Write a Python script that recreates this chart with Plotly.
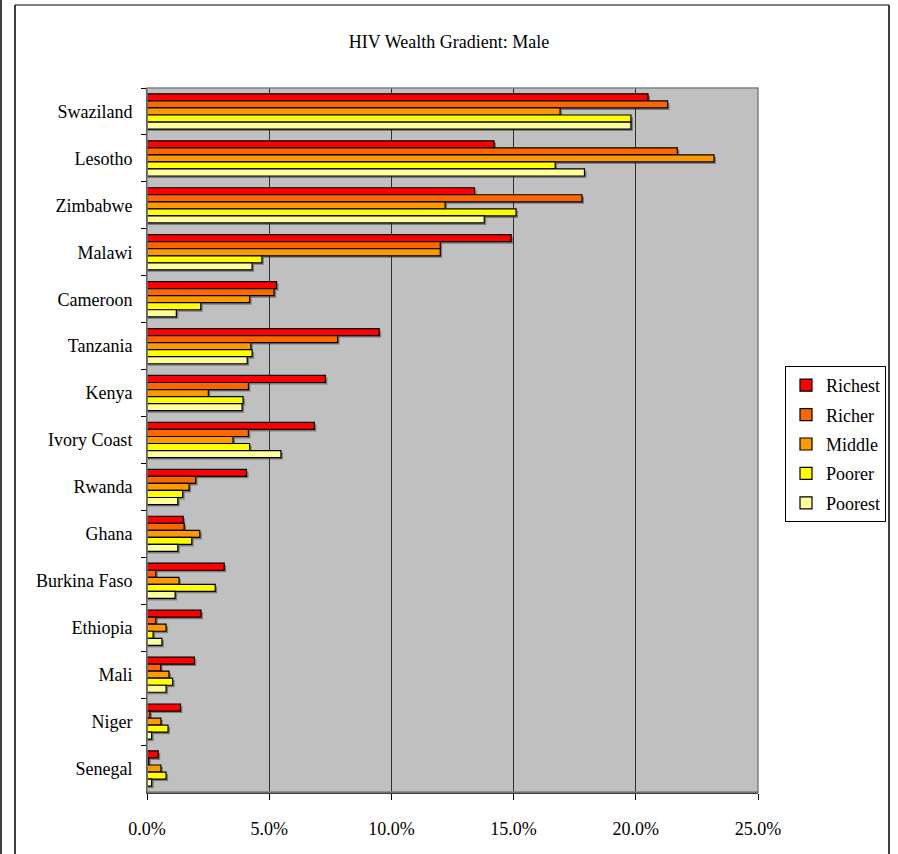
import plotly.graph_objects as go

# HIV prevalence among men by wealth quintile (percent)
countries = ["Swaziland", "Lesotho", "Zimbabwe", "Malawi", "Cameroon", "Tanzania",
             "Kenya", "Ivory Coast", "Rwanda", "Ghana", "Burkina Faso", "Ethiopia",
             "Mali", "Niger", "Senegal"]
richest = [20.5, 14.2, 13.4, 14.9, 5.3, 9.5, 7.3, 6.85, 4.07, 1.48, 3.16, 2.21, 1.94, 1.37, 0.46]
richer = [21.3, 21.7, 17.8, 12.0, 5.2, 7.8, 4.15, 4.15, 1.99, 1.52, 0.36, 0.36, 0.56, 0.12, 0.07]
middle = [16.9, 23.2, 12.2, 12.0, 4.2, 4.25, 2.51, 3.52, 1.72, 2.16, 1.31, 0.78, 0.90, 0.57, 0.57]
poorer = [19.8, 16.7, 15.1, 4.7, 2.2, 4.3, 3.93, 4.2, 1.46, 1.83, 2.79, 0.25, 1.05, 0.86, 0.78]
poorest = [19.8, 17.9, 13.8, 4.3, 1.2, 4.1, 3.89, 5.48, 1.26, 1.26, 1.15, 0.61, 0.78, 0.19, 0.19]

series_names = ["Richest", "Richer", "Middle", "Poorer", "Poorest"]
series_values = [richest, richer, middle, poorer, poorest]
series_colors = ["#FF0000", "#FF6600", "#FF9900", "#FFFF00", "#FFFF99"]
x_tick_values = [0.0, 0.05, 0.10, 0.15, 0.20, 0.25]

FONT = "Liberation Serif, Times New Roman, serif"
W, H = 898, 854
L, R, T, B = 147, 140, 88, 62
PLOT_W, PLOT_H = W - L - R, H - T - B
X_MAX = 0.25

# bar geometry inside each category slot (category units)
GROUP_W = 0.75
BAR_W = GROUP_W / len(series_names)
# drop-shadow offset, 2 px in each direction
SH_Y = 2 * len(countries) / PLOT_H
SH_X = 2 * X_MAX / PLOT_W

fig = go.Figure()

# soft drop shadows underneath the bars
for i, vals in enumerate(series_values):
    fig.add_trace(go.Bar(
        y=countries,
        x=[v / 100 + SH_X for v in vals],
        orientation="h",
        width=BAR_W,
        offset=-GROUP_W / 2 + i * BAR_W + SH_Y,
        marker=dict(color="rgba(40,40,40,0.45)", line=dict(width=0)),
        showlegend=False,
        hoverinfo="skip",
    ))

for i, (name, vals, col) in enumerate(zip(series_names, series_values, series_colors)):
    fig.add_trace(go.Bar(
        y=countries,
        x=[v / 100 for v in vals],
        name=name,
        orientation="h",
        width=BAR_W,
        offset=-GROUP_W / 2 + i * BAR_W,
        legendgroup=name,
        marker=dict(color=col, line=dict(color="#000000", width=1.2)),
        hoverinfo="x+y+name",
    ))


def px_x(px):
    return (px - L) / PLOT_W


def px_y(py):
    return (H - B - py) / PLOT_H


shapes = [
    # outer chart frame
    dict(type="line", xref="paper", yref="paper", x0=px_x(1), x1=px_x(1), y0=px_y(0), y1=px_y(860),
         line=dict(color="#000000", width=1.5)),
    dict(type="line", xref="paper", yref="paper", x0=px_x(15), x1=px_x(15), y0=px_y(5), y1=px_y(860),
         line=dict(color="#404040", width=2)),
    dict(type="line", xref="paper", yref="paper", x0=px_x(15), x1=px_x(889), y0=px_y(5), y1=px_y(5),
         line=dict(color="#000000", width=1)),
    dict(type="line", xref="paper", yref="paper", x0=px_x(889), x1=px_x(889), y0=px_y(5), y1=px_y(860),
         line=dict(color="#404040", width=2)),
    # plot area border
    dict(type="rect", xref="paper", yref="paper", x0=0, x1=1, y0=0, y1=1,
         line=dict(color="#808080", width=1.5), layer="above"),
]

fig.update_layout(
    width=W, height=H,
    margin=dict(l=L, r=R, t=T, b=B),
    paper_bgcolor="#FFFFFF",
    plot_bgcolor="#C0C0C0",
    font=dict(family=FONT, size=18, color="#000000"),
    title=dict(text="HIV Wealth Gradient: Male", x=0.5, xanchor="center",
               y=1 - 42 / H, yanchor="middle", font=dict(family=FONT, size=18)),
    barmode="overlay",
    showlegend=True,
    legend=dict(
        x=px_x(886), xanchor="right", y=px_y(366), yanchor="top",
        bgcolor="#FFFFFF", bordercolor="#000000", borderwidth=1,
        font=dict(family=FONT, size=18),
        tracegroupgap=3, traceorder="grouped",
    ),
    xaxis=dict(
        range=[0, X_MAX], tickvals=x_tick_values, tickformat=".1%",
        showgrid=True, gridcolor="#303030", gridwidth=1,
        showline=True, linecolor="#404040", linewidth=2,
        ticks="outside", ticklen=6, tickcolor="#000000",
        ticklabelstandoff=13, zeroline=False, fixedrange=True,
    ),
    yaxis=dict(
        categoryorder="array", categoryarray=countries, autorange="reversed",
        showline=True, linecolor="#000000", linewidth=1,
        ticks="outside", tickson="boundaries", ticklen=5, tickcolor="#000000",
        ticklabelstandoff=10, showgrid=False, fixedrange=True,
    ),
    shapes=shapes,
)

fig.write_html("out.html")
